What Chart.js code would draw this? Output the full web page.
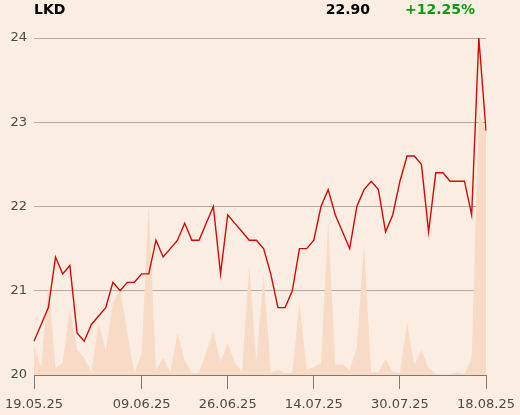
<!DOCTYPE html>
<html lang="en">
<head>
  <meta charset="UTF-8" />
  <title>LKD</title>
  <script src="https://cdn.jsdelivr.net/npm/chart.js"></script>
  <style>
    body { margin: 0; background: #fbede1; font-family: "DejaVu Sans", sans-serif; }
    #wrap { position: relative; width: 520px; height: 415px; }
    .hdr { position: absolute; top: -1px; font-size: 14px; font-weight: bold; line-height: 20px; }
  </style>
</head>
<body>
  <div id="wrap">
    <div class="hdr" style="left:34px;color:#000">LKD</div>
    <div class="hdr" style="right:150px;color:#000">22.90</div>
    <div class="hdr" style="left:405px;color:#0d9a0d">+12.25%</div>
    <canvas id="chart"></canvas>
  </div>

  <script>
    // trading days shown on the x axis
    const dates = [
      '19.05.25','20.05.25','21.05.25','22.05.25','23.05.25','26.05.25','27.05.25','28.05.25','29.05.25','30.05.25',
      '02.06.25','03.06.25','04.06.25','05.06.25','06.06.25','09.06.25','10.06.25','11.06.25','13.06.25','16.06.25',
      '17.06.25','18.06.25','19.06.25','20.06.25','23.06.25','24.06.25','25.06.25','26.06.25','27.06.25','30.06.25',
      '01.07.25','02.07.25','03.07.25','04.07.25','07.07.25','08.07.25','09.07.25','10.07.25','11.07.25','14.07.25',
      '15.07.25','16.07.25','17.07.25','18.07.25','21.07.25','22.07.25','23.07.25','24.07.25','25.07.25','28.07.25',
      '29.07.25','30.07.25','31.07.25','01.08.25','04.08.25','05.08.25','06.08.25','07.08.25','08.08.25','11.08.25',
      '12.08.25','13.08.25','14.08.25','18.08.25'
    ];
    const shownDates = ['19.05.25', '09.06.25', '26.06.25', '14.07.25', '30.07.25', '18.08.25'];

    const prices = [
      20.4, 20.6, 20.8, 21.4, 21.2, 21.3, 20.5, 20.4, 20.6, 20.7,
      20.8, 21.1, 21.0, 21.1, 21.1, 21.2, 21.2, 21.6, 21.4, 21.5,
      21.6, 21.8, 21.6, 21.6, 21.8, 22.0, 21.2, 21.9, 21.8, 21.7,
      21.6, 21.6, 21.5, 21.2, 20.8, 20.8, 21.0, 21.5, 21.5, 21.6,
      22.0, 22.2, 21.9, 21.7, 21.5, 22.0, 22.2, 22.3, 22.2, 21.7,
      21.9, 22.3, 22.6, 22.6, 22.5, 21.7, 22.4, 22.4, 22.3, 22.3,
      22.3, 21.9, 24.0, 22.9
    ];

    // volume, thousands of shares
    const volumes = [
      30, 7, 90, 7, 12, 66, 25, 17, 3, 52,
      25, 72, 85, 42, 2, 22, 170, 5, 17, 3,
      42, 15, 2, 2, 23, 44, 13, 32, 12, 3,
      110, 12, 100, 3, 5, 2, 2, 72, 5, 8,
      12, 153, 10, 11, 5, 28, 131, 3, 3, 16,
      3, 2, 52, 10, 25, 7, 1, 0.5, 0.5, 3,
      1, 17, 262, 245
    ];

    const priceTicks = [20, 21, 22, 23, 24];

    new Chart(document.getElementById('chart'), {
      type: 'line',
      data: {
        labels: dates,
        datasets: [
          {
            label: 'LKD',
            data: prices,
            yAxisID: 'y',
            borderColor: '#d10a0a',
            borderWidth: 1.4,
            pointRadius: 0,
            tension: 0,
            fill: false,
            order: 1
          },
          {
            label: 'Volume',
            data: volumes,
            yAxisID: 'vol',
            borderWidth: 0,
            backgroundColor: '#f8dbc6',
            pointRadius: 0,
            tension: 0,
            fill: 'origin',
            order: 2
          }
        ]
      },
      options: {
        responsive: true,
        maintainAspectRatio: false,
        animation: false,
        layout: { padding: { top: 38, right: 34, left: 0, bottom: 0 } },
        plugins: { legend: { display: false }, tooltip: { enabled: false } },
        scales: {
          x: {
            afterBuildTicks: axis => {
              axis.ticks = axis.ticks.filter(t => shownDates.includes(dates[t.value]));
            },
            afterFit: s => { s.height = 40; },
            ticks: {
              autoSkip: false,
              maxRotation: 0,
              padding: 5,
              color: '#4a4a4a',
              font: { family: 'DejaVu Sans', size: 13, lineHeight: 1.65 },
              callback: function (value) { return this.getLabelForValue(value); }
            },
            grid: { drawOnChartArea: false, tickLength: 14, color: '#7a7a7a' },
            border: { color: '#7a7a7a', width: 1 }
          },
          y: {
            min: 20,
            max: 24,
            afterBuildTicks: axis => { axis.ticks = priceTicks.map(v => ({ value: v })); },
            afterFit: s => { s.width = 34; },
            ticks: {
              padding: 7,
              color: '#4a4a4a',
              font: { family: 'DejaVu Sans', size: 13 }
            },
            grid: { drawTicks: false, color: '#b3aca6' },
            border: { display: false }
          },
          vol: {
            display: false,
            min: 0,
            max: 337
          }
        }
      }
    });
  </script>
</body>
</html>
